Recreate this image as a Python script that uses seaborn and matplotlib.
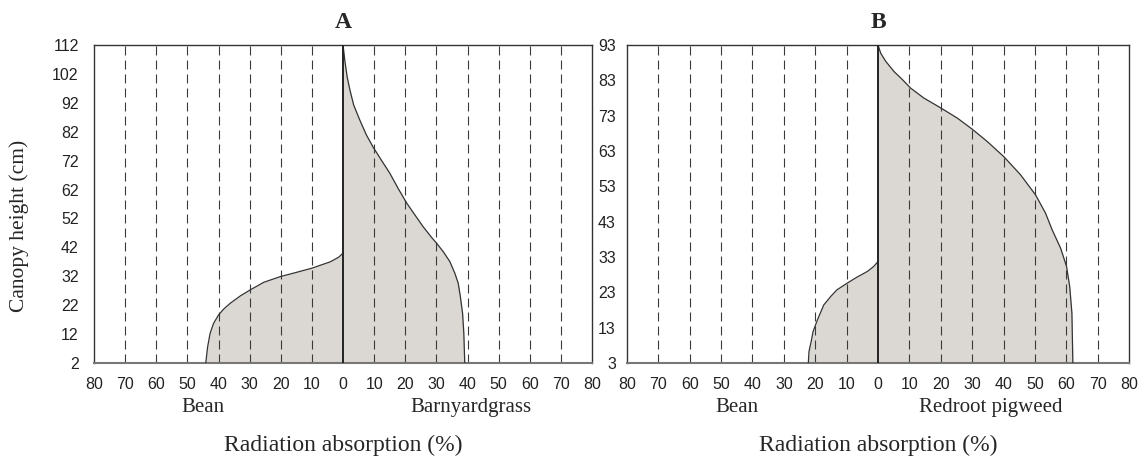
import numpy as np
import matplotlib
matplotlib.use("Agg")
import matplotlib.pyplot as plt
import matplotlib.transforms as mtransforms
import seaborn as sns

# Panel A: bean (left side) vs barnyardgrass (right side)
a_bean_height = [2, 7.6, 12.3, 15.7, 18.6, 20.6, 22.7, 25.2, 27.3, 29.9, 31.9,
                 33.4, 34.8, 37.0, 38.6, 40.0]
a_bean_abs = [44.1, 43.5, 42.7, 41.6, 40.0, 38.4, 36.2, 33.0, 29.8, 25.5, 20.1,
              14.8, 10.0, 4.1, 1.4, 0.0]
a_weed_height = [2, 12.3, 19.2, 24.9, 29.6, 33.1, 37.1, 40.5, 43.5, 45.5, 49.2,
                 53.2, 57.4, 62.4, 67.7, 72.2, 76.8, 80.9, 86.0, 91.3, 96.5,
                 101.1, 106.8, 112]
a_weed_abs = [39.1, 38.8, 38.4, 37.7, 37.0, 35.9, 34.3, 32.2, 30.0, 28.4, 25.7,
              23.1, 20.4, 17.7, 15.0, 12.3, 9.6, 7.5, 5.4, 3.4, 2.2, 1.3, 0.55,
              0.0]

# Panel B: bean (left side) vs redroot pigweed (right side)
b_bean_height = [3, 6.2, 9.5, 11.9, 15.2, 19.4, 21.8, 23.7, 25.6, 27.3, 28.9,
                 30.3, 31.7]
b_bean_abs = [22.2, 22.0, 21.2, 20.7, 19.3, 17.3, 15.1, 13.1, 9.8, 6.7, 3.4,
              1.4, 0.0]
b_weed_height = [3, 17.1, 24.6, 30.3, 35.5, 40.7, 45.4, 50.6, 56.3, 61.4, 65.7,
                 69.2, 72.3, 75.2, 78.0, 80.8, 83.2, 85.5, 88.4, 90.7, 93]
b_weed_abs = [62.1, 61.8, 61.1, 60.1, 58.2, 55.5, 53.4, 50.2, 45.4, 40.1, 34.8,
              30.0, 25.3, 20.0, 14.6, 10.4, 7.8, 5.1, 2.45, 0.86, 0.0]

a_yticks = list(range(2, 113, 10))
b_yticks = list(range(3, 94, 10))
xticks = list(range(-80, 81, 10))
panel_titles = ["A", "B"]
crop_names = [("Bean", "Barnyardgrass"), ("Bean", "Redroot pigweed")]

sns.set_style("white")
plt.rcParams["font.family"] = ["Liberation Serif", "DejaVu Serif"]
tick_font = ["Liberation Sans Narrow", "Liberation Sans", "DejaVu Sans"]

fill_color = "#dbd7d3"
line_color = "#333333"

fig = plt.figure(figsize=(11.41, 4.57), dpi=100)
ax_a = fig.add_axes([0.0824, 0.2057, 0.4365, 0.6958])
ax_b = fig.add_axes([0.5495, 0.2057, 0.4400, 0.6958])

panels = [
    (ax_a, a_bean_height, a_bean_abs, a_weed_height, a_weed_abs, a_yticks),
    (ax_b, b_bean_height, b_bean_abs, b_weed_height, b_weed_abs, b_yticks),
]

for i, (ax, bh, ba, wh, wa, yt) in enumerate(panels):
    bean_x = -np.array(ba)
    weed_x = np.array(wa)
    ax.fill_betweenx(bh, bean_x, 0, color=fill_color, lw=0, zorder=1)
    ax.fill_betweenx(wh, 0, weed_x, color=fill_color, lw=0, zorder=1)
    sns.lineplot(x=bean_x, y=bh, orient="y", sort=True, estimator=None,
                 color=line_color, lw=0.9, ax=ax, zorder=3)
    sns.lineplot(x=weed_x, y=wh, orient="y", sort=True, estimator=None,
                 color=line_color, lw=0.9, ax=ax, zorder=3)

    for xv in xticks:
        if xv in (-80, 0, 80):
            continue
        ax.axvline(xv, color="#3a3a3a", lw=0.8, ls=(0, (8.1, 4.5)), zorder=2)
    ax.axvline(0, color="#222222", lw=1.4, zorder=4)

    ax.set_xlim(-80, 80)
    ax.set_ylim(yt[0], yt[-1])
    ax.set_xticks(xticks)
    ax.set_xticklabels([str(abs(v)) for v in xticks])
    ax.set_yticks(yt)
    ax.tick_params(axis="both", length=0, labelsize=11.5, colors="#222222")
    ax.tick_params(axis="x", pad=10)
    ax.tick_params(axis="y", pad=11 if i == 0 else 8)
    for lab in ax.get_xticklabels() + ax.get_yticklabels():
        lab.set_family(tick_font)
    for s in ax.spines.values():
        s.set_color("#333333")
        s.set_linewidth(1.0)
        s.set_visible(True)
    ax.spines["bottom"].set_color("#777777")
    ax.spines["bottom"].set_linewidth(1.5)

    trans = mtransforms.blended_transform_factory(ax.transData, ax.transAxes)
    ax.text(-45, -0.14, crop_names[i][0], transform=trans, ha="center",
            va="center", fontsize=15)
    ax.text(41 if i == 0 else 36, -0.14, crop_names[i][1], transform=trans,
            ha="center", va="center", fontsize=15)
    ax.text(0.5, -0.258, "Radiation absorption (%)", transform=ax.transAxes,
            ha="center", va="center", fontsize=17)
    ax.text(0, 1.072, panel_titles[i], transform=trans, ha="center",
            va="center", fontsize=17, fontweight="bold")
    ax.set_xlabel("")
    ax.set_ylabel("")

fig.text(0.017, 0.505, "Canopy height (cm)", rotation=90, ha="center",
         va="center", fontsize=15.5)

fig.savefig("out.png", dpi=100)
